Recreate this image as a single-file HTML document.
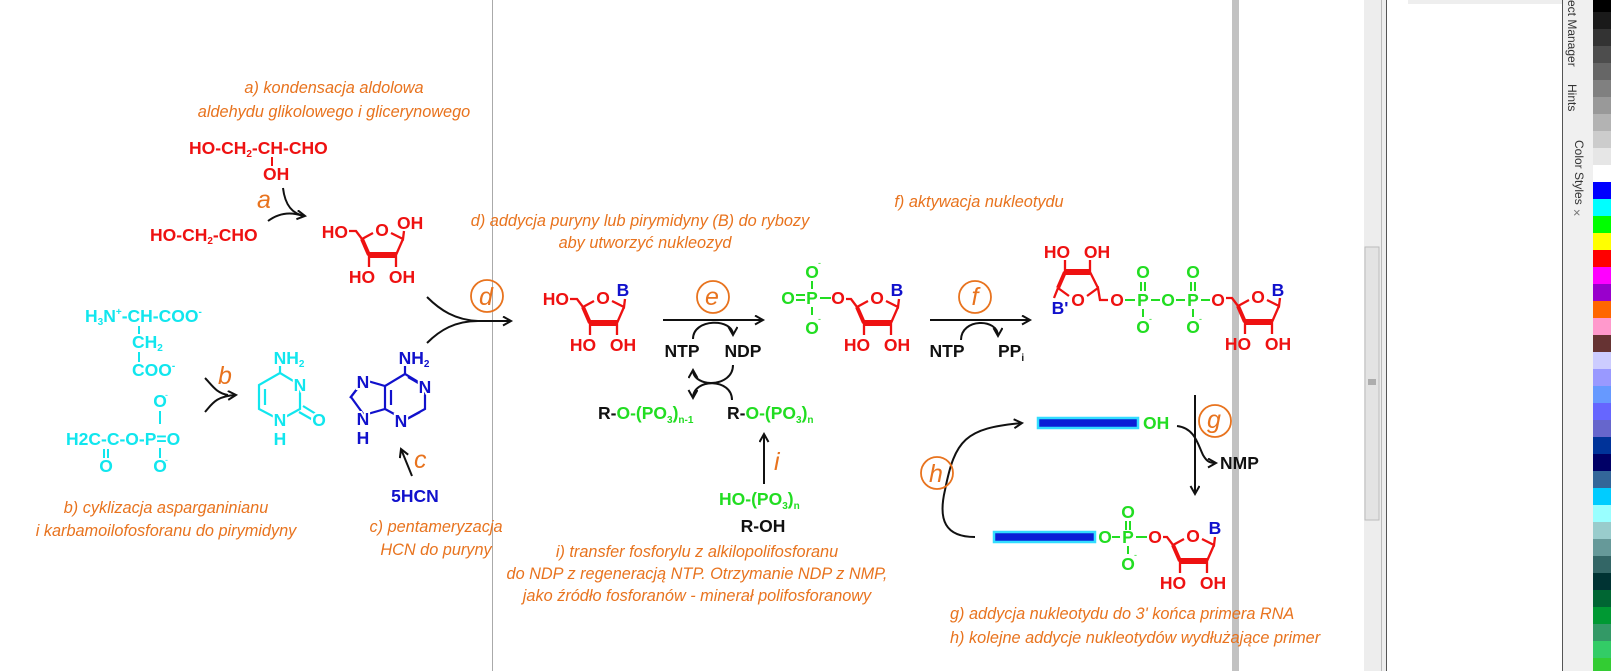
<!DOCTYPE html>
<html><head><meta charset="utf-8"><style>
html,body{margin:0;padding:0;background:#fff;width:1612px;height:671px;overflow:hidden}
svg{display:block}
.c{font-family:"Liberation Sans",sans-serif;font-weight:bold;font-size:17.5px}
.t{font-family:"Liberation Sans",sans-serif;font-style:italic;font-size:16.3px;fill:#e8731e}
.L{font-family:"Liberation Sans",sans-serif;font-style:italic;font-size:25px;fill:#e8731e}
.r{fill:#ee1111}.g{fill:#22dd22}.cy{fill:#11e6ee}.b{fill:#1111cc}.k{fill:#111}
.h{paint-order:stroke;stroke:#fff;stroke-width:4px}
.s{font-size:10px}
</style></head><body>
<svg width="1612" height="671" viewBox="0 0 1612 671" xmlns="http://www.w3.org/2000/svg">
<defs>
<marker id="ah" markerWidth="12" markerHeight="12" refX="9" refY="5" orient="auto" markerUnits="userSpaceOnUse">
<path d="M1,0.5 L9,5 L1,9.5" fill="none" stroke="#111" stroke-width="2"/></marker>
</defs>
<rect width="1612" height="671" fill="#fff"/>
<line x1="492.5" y1="0" x2="492.5" y2="671" stroke="#aaa" stroke-width="1"/>
<rect x="1232" y="0" width="7" height="671" fill="#c2c2c2"/>

<!-- labels -->
<g class="t" text-anchor="middle">
<text x="334" y="93">a) kondensacja aldolowa</text>
<text x="334" y="117">aldehydu glikolowego i glicerynowego</text>
<text x="640" y="226">d) addycja puryny lub pirymidyny (B) do rybozy</text>
<text x="645" y="248">aby utworzyć nukleozyd</text>
<text x="979" y="207">f) aktywacja nukleotydu</text>
<text x="166" y="513">b) cyklizacja asparganinianu</text>
<text x="166" y="536">i karbamoilofosforanu do pirymidyny</text>
<text x="436" y="532">c) pentameryzacja</text>
<text x="436" y="555">HCN do puryny</text>
<text x="697" y="557">i) transfer fosforylu z alkilopolifosforanu</text>
<text x="697" y="579">do NDP z regeneracją NTP. Otrzymanie NDP z NMP,</text>
<text x="697" y="601">jako źródło fosforanów - minerał polifosforanowy</text>
</g>
<g class="t">
<text x="950" y="619">g) addycja nukleotydu do 3' końca primera RNA</text>
<text x="950" y="643">h) kolejne addycje nukleotydów wydłużające primer</text>
</g>

<!-- a -->
<g class="c r">
<text x="189" y="154">HO-CH<tspan class="s" dy="3">2</tspan><tspan dy="-3">-CH-CHO</tspan></text>
<text x="263" y="180">OH</text>
<text x="150" y="241">HO-CH<tspan class="s" dy="3">2</tspan><tspan dy="-3">-CHO</tspan></text>
</g>
<line x1="272" y1="157" x2="272" y2="166" stroke="#ee1111" stroke-width="2"/>
<text class="L" x="257" y="208">a</text>
<path d="M283,188 C285,205 292,214 305,216" fill="none" stroke="#111" stroke-width="2" marker-end="url(#ah)"/>
<path d="M268,221 C280,212 292,212 303,216" fill="none" stroke="#111" stroke-width="2"/>

<g transform="translate(382,230)">
<g fill="none" stroke="#ee1111" stroke-width="2.3"><path d="M-20,9 L-9,3 M9,3 L21,9 L22,1 M-13,25 L-13,37 M14,25 L14,37 M-20,9 L-26,1 L-33,1 M14,25 L21,9"/><path d="M-20,9 L-13,25" stroke-width="4"/><path d="M-13,25 L14,25" stroke-width="6"/></g>
<g class="c r"><text x="0" y="6" text-anchor="middle">O</text><text x="-20" y="53" text-anchor="middle">HO</text><text x="20" y="53" text-anchor="middle">OH</text><text x="-34" y="8" text-anchor="end">HO</text><text x="15" y="-1">OH</text></g>
</g>

<g transform="translate(603,298)">
<g fill="none" stroke="#ee1111" stroke-width="2.3"><path d="M-20,9 L-9,3 M9,3 L21,9 L22,1 M-13,25 L-13,37 M14,25 L14,37 M-20,9 L-26,1 L-33,1 M14,25 L21,9"/><path d="M-20,9 L-13,25" stroke-width="4"/><path d="M-13,25 L14,25" stroke-width="6"/></g>
<g class="c r"><text x="0" y="6" text-anchor="middle">O</text><text x="-20" y="53" text-anchor="middle">HO</text><text x="20" y="53" text-anchor="middle">OH</text><text x="-34" y="7" text-anchor="end">HO</text></g>
<text class="c b" x="20" y="-2" text-anchor="middle">B</text>
</g>

<g transform="translate(877,298)">
<g fill="none" stroke="#ee1111" stroke-width="2.3"><path d="M-20,9 L-9,3 M9,3 L21,9 L22,1 M-13,25 L-13,37 M14,25 L14,37 M-20,9 L-26,1 L-31,1 M14,25 L21,9"/><path d="M-20,9 L-13,25" stroke-width="4"/><path d="M-13,25 L14,25" stroke-width="6"/></g>
<g class="c r"><text x="0" y="6" text-anchor="middle">O</text><text x="-20" y="53" text-anchor="middle">HO</text><text x="20" y="53" text-anchor="middle">OH</text><text x="-39" y="6" text-anchor="middle">O</text></g>
<text class="c b" x="20" y="-2" text-anchor="middle">B</text>
</g>
<g class="c g" text-anchor="middle">
<text x="788" y="304">O</text><text x="812" y="304">P</text><text x="812" y="278">O</text><text x="812" y="334">O</text>
</g>
<g stroke="#22dd22" stroke-width="2"><line x1="796" y1="295" x2="805" y2="295"/><line x1="796" y1="300" x2="805" y2="300"/><line x1="812" y1="281" x2="812" y2="289"/><line x1="812" y1="307" x2="812" y2="315"/><line x1="820" y1="298" x2="831" y2="298"/></g>
<text class="g" x="818" y="266" font-size="9" font-family="Liberation Sans">-</text>
<text class="g" x="818" y="322" font-size="9" font-family="Liberation Sans">-</text>

<g transform="translate(1078,300)">
<g fill="none" stroke="#ee1111" stroke-width="2.3"><path d="M-20,-12 L-9,-4 M9,-4 L20,-12 L22,0 L30,0 M-13,-28 L-13,-40 M12,-28 L12,-40 M12,-28 L20,-12 M-20,-12 L-24,-2"/><path d="M-20,-12 L-13,-28" stroke-width="4"/><path d="M-13,-28 L12,-28" stroke-width="6"/></g>
<g class="c r" text-anchor="middle"><text x="0" y="6">O</text><text x="-21" y="-42">HO</text><text x="19" y="-42">OH</text><text x="39" y="6">O</text></g>
<text class="c b" x="-18" y="14" text-anchor="middle">B'</text>
</g>
<g class="c g" text-anchor="middle">
<text x="1143" y="306">P</text><text x="1143" y="278">O</text><text x="1143" y="333">O</text>
<text x="1168" y="306">O</text>
<text x="1193" y="306">P</text><text x="1193" y="278">O</text><text x="1193" y="333">O</text>
</g>
<text class="c r" x="1218" y="306" text-anchor="middle">O</text>
<g stroke="#22dd22" stroke-width="2"><line x1="1125" y1="300" x2="1135" y2="300"/><line x1="1151" y1="300" x2="1160" y2="300"/><line x1="1176" y1="300" x2="1185" y2="300"/><line x1="1201" y1="300" x2="1210" y2="300"/>
<line x1="1141" y1="282" x2="1141" y2="291"/><line x1="1145" y1="282" x2="1145" y2="291"/><line x1="1143" y1="309" x2="1143" y2="317"/>
<line x1="1191" y1="282" x2="1191" y2="291"/><line x1="1195" y1="282" x2="1195" y2="291"/><line x1="1193" y1="309" x2="1193" y2="317"/></g>
<text class="g" x="1149" y="322" font-size="9" font-family="Liberation Sans">-</text>
<text class="g" x="1199" y="322" font-size="9" font-family="Liberation Sans">-</text>
<g transform="translate(1258,297)">
<g fill="none" stroke="#ee1111" stroke-width="2.3"><path d="M-20,9 L-9,3 M9,3 L21,9 L22,1 M-13,25 L-13,37 M14,25 L14,37 M-20,9 L-26,1 L-32,1 M14,25 L21,9"/><path d="M-20,9 L-13,25" stroke-width="4"/><path d="M-13,25 L14,25" stroke-width="6"/></g>
<g class="c r" text-anchor="middle"><text x="0" y="6">O</text><text x="-20" y="53">HO</text><text x="20" y="53">OH</text></g>
<text class="c b" x="20" y="-1" text-anchor="middle">B</text>
</g>

<g transform="translate(1193,536)">
<g fill="none" stroke="#ee1111" stroke-width="2.3"><path d="M-20,9 L-9,3 M9,3 L21,9 L22,1 M-13,25 L-13,37 M14,25 L14,37 M-20,9 L-26,1 L-30,1 M14,25 L21,9"/><path d="M-20,9 L-13,25" stroke-width="4"/><path d="M-13,25 L14,25" stroke-width="6"/></g>
<g class="c r" text-anchor="middle"><text x="0" y="6">O</text><text x="-20" y="53">HO</text><text x="20" y="53">OH</text><text x="-38" y="7">O</text></g>
<text class="c b" x="22" y="-2" text-anchor="middle">B</text>
</g>
<g class="c g" text-anchor="middle"><text x="1105" y="543">O</text><text x="1128" y="543">P</text><text x="1128" y="518">O</text><text x="1128" y="570">O</text></g>
<g stroke="#22dd22" stroke-width="2"><line x1="1112" y1="537" x2="1120" y2="537"/><line x1="1136" y1="537" x2="1147" y2="537"/><line x1="1126" y1="521" x2="1126" y2="530"/><line x1="1130" y1="521" x2="1130" y2="530"/><line x1="1128" y1="546" x2="1128" y2="554"/></g>
<text class="g" x="1134" y="558" font-size="9" font-family="Liberation Sans">-</text>
<text class="c g" x="1143" y="429">OH</text>
<rect x="1038" y="418" width="100" height="10" fill="#0b1fd6" stroke="#33ddff" stroke-width="2.5"/>
<rect x="994" y="532" width="101" height="10" fill="#0b1fd6" stroke="#33ddff" stroke-width="2.5"/>

<!-- cyan -->
<g class="c cy">
<text x="85" y="322">H<tspan class="s" dy="3">3</tspan><tspan dy="-3">N</tspan><tspan class="s" dy="-7">+</tspan><tspan dy="7">-CH-COO</tspan><tspan class="s" dy="-7">-</tspan></text>
<text x="132" y="348">CH<tspan class="s" dy="3">2</tspan></text>
<text x="132" y="376">COO<tspan class="s" dy="-7">-</tspan></text>
<text x="66" y="445">H2C-C-O-P=O</text>
<text x="106" y="472" text-anchor="middle">O</text>
<text x="160" y="407" text-anchor="middle">O</text>
<text x="160" y="472" text-anchor="middle">O</text>
</g>
<g stroke="#11e6ee" stroke-width="2"><line x1="139" y1="326" x2="139" y2="334"/><line x1="139" y1="352" x2="139" y2="362"/><line x1="104" y1="449" x2="104" y2="458"/><line x1="108" y1="449" x2="108" y2="458"/><line x1="160" y1="411" x2="160" y2="424"/><line x1="160" y1="448" x2="160" y2="458"/></g>
<text class="cy" x="165" y="398" font-size="9" font-family="Liberation Sans">-</text>
<text class="cy" x="165" y="463" font-size="9" font-family="Liberation Sans">-</text>
<text class="L" x="218" y="384">b</text>
<path d="M205,378 C212,385 216,393 228,395" fill="none" stroke="#111" stroke-width="2"/>
<path d="M205,412 C212,404 216,396 236,395" fill="none" stroke="#111" stroke-width="2" marker-end="url(#ah)"/>
<!-- cytosine -->
<g fill="none" stroke="#11e6ee" stroke-width="2.2"><path d="M280,366 L280,373 L300,385 L300,409 L280,420 L259,409 L259,385 L280,373"/><path d="M265,389 L265,405 M299,412 L313,420 M303,406 L316,414"/></g>
<g class="c cy h" text-anchor="middle"><text x="300" y="391">N</text><text x="280" y="426">N</text><text x="319" y="426">O</text></g>
<g class="c cy" text-anchor="middle"><text x="280" y="445">H</text><text x="289" y="364">NH<tspan class="s" dy="3">2</tspan></text></g>

<!-- adenine -->
<g fill="none" stroke="#1111cc" stroke-width="2.2"><path d="M405,366 L405,374 L425,386 L425,409 L405,420 L385,409 L385,386 L405,374"/><path d="M385,386 L364,380 L351,397 L364,415 L385,409"/><path d="M391,390 L391,405 M408,377 L420,384 M420,412 L407,419 M360,385 L350,398"/></g>
<g class="c b h" text-anchor="middle"><text x="425" y="393">N</text><text x="401" y="427">N</text><text x="363" y="388">N</text><text x="363" y="425">N</text></g>
<g class="c b" text-anchor="middle"><text x="363" y="444">H</text><text x="414" y="364">NH<tspan class="s" dy="3">2</tspan></text><text x="415" y="502">5HCN</text></g>
<line x1="412" y1="476" x2="401" y2="449" stroke="#111" stroke-width="2" marker-end="url(#ah)"/>
<text class="L" x="414" y="468">c</text>

<!-- d -->
<path d="M427,297 C440,310 455,320 478,321" fill="none" stroke="#111" stroke-width="2"/>
<path d="M427,343 C440,330 455,321 478,321" fill="none" stroke="#111" stroke-width="2"/>
<line x1="476" y1="321" x2="511" y2="321" stroke="#111" stroke-width="2" marker-end="url(#ah)"/>
<circle cx="487" cy="296" r="16" fill="none" stroke="#e8731e" stroke-width="1.8"/>
<text class="L" x="486" y="305" text-anchor="middle">d</text>

<!-- e -->
<line x1="663" y1="320" x2="763" y2="320" stroke="#111" stroke-width="2" marker-end="url(#ah)"/>
<circle cx="713" cy="297" r="16" fill="none" stroke="#e8731e" stroke-width="1.8"/>
<text class="L" x="712" y="305" text-anchor="middle">e</text>
<g class="c k" text-anchor="middle"><text x="682" y="357">NTP</text><text x="743" y="357">NDP</text></g>
<path d="M693,339 C693,318 733,318 733,335" fill="none" stroke="#111" stroke-width="2" marker-end="url(#ah)"/>
<path d="M733,365 C733,388 693,388 693,370" fill="none" stroke="#111" stroke-width="2" marker-end="url(#ah)"/>
<path d="M732,400 C732,378 693,378 693,398" fill="none" stroke="#111" stroke-width="2" marker-end="url(#ah)"/>
<g class="c">
<text x="598" y="419"><tspan class="k">R-</tspan><tspan class="g">O-(PO</tspan><tspan class="g s" dy="4">3</tspan><tspan class="g" dy="-4">)</tspan><tspan class="g s" dy="4">n-1</tspan></text>
<text x="727" y="419"><tspan class="k">R-</tspan><tspan class="g">O-(PO</tspan><tspan class="g s" dy="4">3</tspan><tspan class="g" dy="-4">)</tspan><tspan class="g s" dy="4">n</tspan></text>
<text x="719" y="505"><tspan class="g">HO-(PO</tspan><tspan class="g s" dy="4">3</tspan><tspan class="g" dy="-4">)</tspan><tspan class="g s" dy="4">n</tspan></text>
<text x="763" y="532" class="k" text-anchor="middle">R-OH</text>
</g>
<line x1="764" y1="484" x2="764" y2="434" stroke="#111" stroke-width="2" marker-end="url(#ah)"/>
<text class="L" x="774" y="470">i</text>

<!-- f -->
<line x1="930" y1="320" x2="1030" y2="320" stroke="#111" stroke-width="2" marker-end="url(#ah)"/>
<circle cx="975" cy="297" r="16" fill="none" stroke="#e8731e" stroke-width="1.8"/>
<text class="L" x="975" y="305" text-anchor="middle">f</text>
<g class="c k"><text x="947" y="357" text-anchor="middle">NTP</text><text x="998" y="357">PP<tspan class="s" dy="4">i</tspan></text></g>
<path d="M961,340 C961,318 998,318 998,336" fill="none" stroke="#111" stroke-width="2" marker-end="url(#ah)"/>

<!-- g/h -->
<line x1="1195" y1="395" x2="1195" y2="494" stroke="#111" stroke-width="2" marker-end="url(#ah)"/>
<path d="M1177,426 C1195,428 1198,445 1203,455 C1207,462 1210,463 1216,463" fill="none" stroke="#111" stroke-width="2" marker-end="url(#ah)"/>
<text class="c k" x="1220" y="469">NMP</text>
<circle cx="1215" cy="421" r="16" fill="none" stroke="#e8731e" stroke-width="1.8"/>
<text class="L" x="1214" y="428" text-anchor="middle">g</text>
<path d="M975,537 C945,537 938,520 945,490 C955,440 965,428 1022,423" fill="none" stroke="#111" stroke-width="2" marker-end="url(#ah)"/>
<circle cx="937" cy="473" r="16" fill="none" stroke="#e8731e" stroke-width="1.8"/>
<text class="L" x="936" y="482" text-anchor="middle">h</text>

<!-- UI panels -->
<rect x="1364" y="0" width="23" height="671" fill="#ededed"/>
<rect x="1365" y="247" width="14" height="273" fill="#e3e3e3" stroke="#bcbcbc" stroke-width="1"/>
<g stroke="#777" stroke-width="1"><line x1="1368" y1="380" x2="1376" y2="380"/><line x1="1368" y1="382" x2="1376" y2="382"/><line x1="1368" y1="384" x2="1376" y2="384"/></g>
<line x1="1381.5" y1="0" x2="1381.5" y2="671" stroke="#bbb"/>
<line x1="1386.5" y1="0" x2="1386.5" y2="671" stroke="#555"/>
<rect x="1408" y="0" width="154" height="4" fill="#eeeeee"/>
<line x1="1562.5" y1="0" x2="1562.5" y2="671" stroke="#555"/>
<rect x="1563" y="0" width="30" height="671" fill="#f0f0f0"/>
<g font-family="Liberation Sans" font-size="12" fill="#333">
<text transform="translate(1568,0) rotate(90)" x="0" y="0">ect Manager</text>
<text transform="translate(1568,84) rotate(90)" x="0" y="0">Hints</text>
<text transform="translate(1575,140) rotate(90)" x="0" y="0">Color Styles</text>
<text x="1573" y="217" font-size="13" fill="#777">×</text>
</g>
<g>
<rect x="1593" y="0" width="18" height="12" fill="#000"/>
<rect x="1593" y="12" width="18" height="17" fill="#1a1a1a"/>
<rect x="1593" y="29" width="18" height="17" fill="#333"/>
<rect x="1593" y="46" width="18" height="17" fill="#4d4d4d"/>
<rect x="1593" y="63" width="18" height="17" fill="#666"/>
<rect x="1593" y="80" width="18" height="17" fill="#808080"/>
<rect x="1593" y="97" width="18" height="17" fill="#999"/>
<rect x="1593" y="114" width="18" height="17" fill="#b3b3b3"/>
<rect x="1593" y="131" width="18" height="17" fill="#ccc"/>
<rect x="1593" y="148" width="18" height="17" fill="#e6e6e6"/>
<rect x="1593" y="165" width="18" height="17" fill="#fff"/>
<rect x="1593" y="182" width="18" height="17" fill="#0000ff"/>
<rect x="1593" y="199" width="18" height="17" fill="#00ffff"/>
<rect x="1593" y="216" width="18" height="17" fill="#00ff00"/>
<rect x="1593" y="233" width="18" height="17" fill="#ffff00"/>
<rect x="1593" y="250" width="18" height="17" fill="#ff0000"/>
<rect x="1593" y="267" width="18" height="17" fill="#ff00ff"/>
<rect x="1593" y="284" width="18" height="17" fill="#9900cc"/>
<rect x="1593" y="301" width="18" height="17" fill="#ff6600"/>
<rect x="1593" y="318" width="18" height="17" fill="#ff99cc"/>
<rect x="1593" y="335" width="18" height="17" fill="#663333"/>
<rect x="1593" y="352" width="18" height="17" fill="#ccccff"/>
<rect x="1593" y="369" width="18" height="17" fill="#9999ff"/>
<rect x="1593" y="386" width="18" height="17" fill="#6699ff"/>
<rect x="1593" y="403" width="18" height="17" fill="#6666ff"/>
<rect x="1593" y="420" width="18" height="17" fill="#6666cc"/>
<rect x="1593" y="437" width="18" height="17" fill="#003399"/>
<rect x="1593" y="454" width="18" height="17" fill="#000066"/>
<rect x="1593" y="471" width="18" height="17" fill="#336699"/>
<rect x="1593" y="488" width="18" height="17" fill="#00ccff"/>
<rect x="1593" y="505" width="18" height="17" fill="#99ffff"/>
<rect x="1593" y="522" width="18" height="17" fill="#99cccc"/>
<rect x="1593" y="539" width="18" height="17" fill="#669999"/>
<rect x="1593" y="556" width="18" height="17" fill="#336666"/>
<rect x="1593" y="573" width="18" height="17" fill="#003333"/>
<rect x="1593" y="590" width="18" height="17" fill="#006633"/>
<rect x="1593" y="607" width="18" height="17" fill="#009933"/>
<rect x="1593" y="624" width="18" height="17" fill="#339966"/>
<rect x="1593" y="641" width="18" height="17" fill="#33cc66"/>
<rect x="1593" y="658" width="18" height="13" fill="#33cc33"/>
</g>
</svg>
</body></html>
